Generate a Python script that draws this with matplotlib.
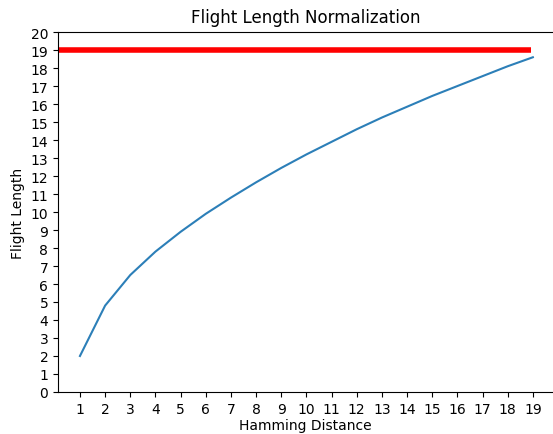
import matplotlib
matplotlib.use("Agg")
import matplotlib.pyplot as plt

hamming = list(range(1, 20))
flight_len = [2.0, 4.8, 6.5, 7.8, 8.9, 9.9, 10.8, 11.65, 12.45, 13.2, 13.9, 14.6,
              15.25, 15.85, 16.45, 17.0, 17.55, 18.1, 18.6]
max_len = 19
xticks = list(range(1, 20))
yticks = list(range(0, 21))

fig = plt.figure(figsize=(5.53, 4.35), dpi=100)
ax = fig.add_axes([0.105, 0.0966, 0.895, 0.8274])
ax.plot(hamming, flight_len, color="#2c7fb8", lw=1.5)
ax.hlines(max_len, 0.13, 18.92, color="red", lw=4)
ax.set_xlim(0.13, 19.8)
ax.set_ylim(0, 20)
ax.set_xticks(xticks)
ax.set_yticks(yticks)
ax.spines["right"].set_visible(False)
ax.set_title("Flight Length Normalization", fontsize=12, pad=7)
ax.set_xlabel("Hamming Distance", labelpad=2)
ax.set_ylabel("Flight Length")
fig.savefig("out.png", dpi=100)
